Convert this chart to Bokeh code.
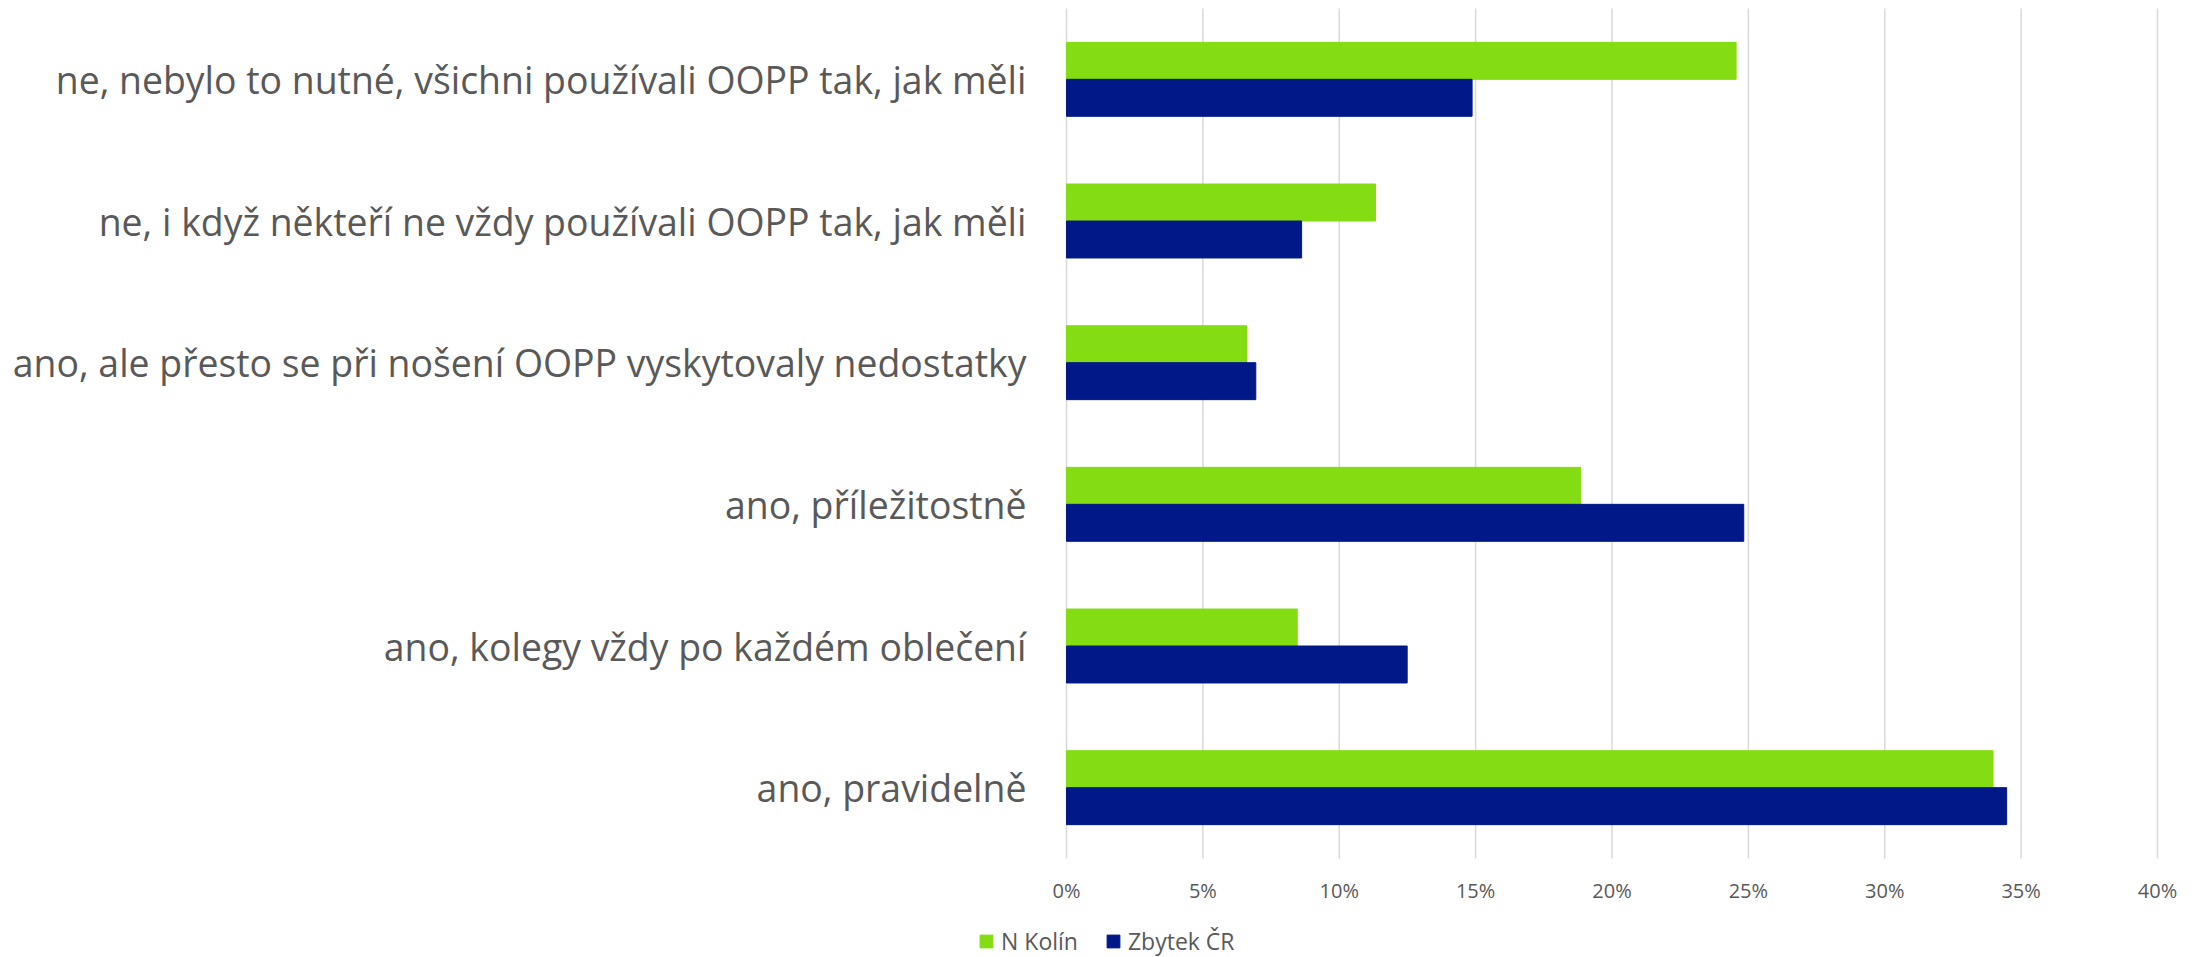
from bokeh.plotting import figure
from bokeh.models import ColumnDataSource, NumeralTickFormatter, Legend, LegendItem, FixedTicker, Range1d
from bokeh.embed import file_html
from bokeh.resources import INLINE

categories = [
    "ne, nebylo to nutné, všichni používali OOPP tak, jak měli",
    "ne, i když někteří ne vždy používali OOPP tak, jak měli",
    "ano, ale přesto se při nošení OOPP vyskytovaly nedostatky",
    "ano, příležitostně",
    "ano, kolegy vždy po každém oblečení",
    "ano, pravidelně",
]
n_kolin = [0.2455, 0.1133, 0.066, 0.1885, 0.0846, 0.3397]
zbytek_cr = [0.1487, 0.0862, 0.0694, 0.2483, 0.1249, 0.3447]
series_names = ["N Kolín", "Zbytek ČR"]
x_ticks = [0, 0.05, 0.10, 0.15, 0.20, 0.25, 0.30, 0.35, 0.40]

GREEN = "#84DC13"
BLUE = "#001888"
TXT = "#595959"
GRID = "#D9D9D9"

n = len(categories)
ypos = [n - 1 - i for i in range(n)]          # first category on top
BAR_H = 0.261
src = ColumnDataSource(dict(
    y=ypos, a=n_kolin, b=zbytek_cr,
    ya=[y + BAR_H / 2 for y in ypos], yb=[y - BAR_H / 2 for y in ypos]))

W, H = 2194, 957
PX_PER_X = 2727.5          # pixels per unit of share
ZERO_PX = 1066             # where 0 % sits
BAND_PX = 850 / n          # pixels per category band
TOP_PX = 8
x0 = -ZERO_PX / PX_PER_X
x1 = (W - ZERO_PX) / PX_PER_X
y1 = (n - 0.5) + TOP_PX / BAND_PX
y0 = y1 - H / BAND_PX

p = figure(width=W, height=H, x_range=Range1d(x0, x1), y_range=Range1d(y0, y1),
           output_backend="svg", toolbar_location=None,
           min_border_left=0, min_border_right=0, min_border_top=0, min_border_bottom=0)

# grid lines limited to the category area
p.xgrid.visible = False
p.ygrid.visible = False
p.segment(x0=x_ticks, x1=x_ticks, y0=[-0.5] * len(x_ticks), y1=[n - 0.5] * len(x_ticks),
          line_color=GRID, line_width=1.5)

r1 = p.hbar(y="ya", right="a", left=0, height=BAR_H, source=src,
            fill_color=GREEN, line_color=GREEN)
r2 = p.hbar(y="yb", right="b", left=0, height=BAR_H, source=src,
            fill_color=BLUE, line_color=BLUE)

p.outline_line_color = None

p.xaxis.ticker = FixedTicker(ticks=x_ticks)
p.xaxis.formatter = NumeralTickFormatter(format="0%")
p.xaxis.fixed_location = -0.5
p.yaxis.ticker = FixedTicker(ticks=ypos)
p.yaxis.major_label_overrides = {y: c for y, c in zip(ypos, categories)}
p.yaxis.fixed_location = 0
for ax in (p.xaxis, p.yaxis):
    ax.axis_line_color = None
    ax.major_tick_line_color = None
    ax.minor_tick_line_color = None
    ax.major_tick_out = 0
    ax.major_tick_in = 0
    ax.major_label_text_color = TXT
    ax.major_label_text_font = "Open Sans"
p.xaxis.major_label_text_font_size = "20px"
p.xaxis.major_label_standoff = 18
p.yaxis.major_label_text_font_size = "37.4px"
p.yaxis.major_label_standoff = 40

legend = Legend(items=[LegendItem(label=series_names[0], renderers=[r1]),
                       LegendItem(label=series_names[1], renderers=[r2])],
                orientation="horizontal", location=(978, 0),
                label_text_font="Open Sans", label_text_font_size="23px",
                label_text_color=TXT, glyph_width=16, glyph_height=16,
                label_standoff=7, spacing=27, padding=0, margin=0,
                border_line_color=None, background_fill_alpha=0)
p.add_layout(legend, "center")

open("out.html", "w").write(file_html(p, INLINE))
